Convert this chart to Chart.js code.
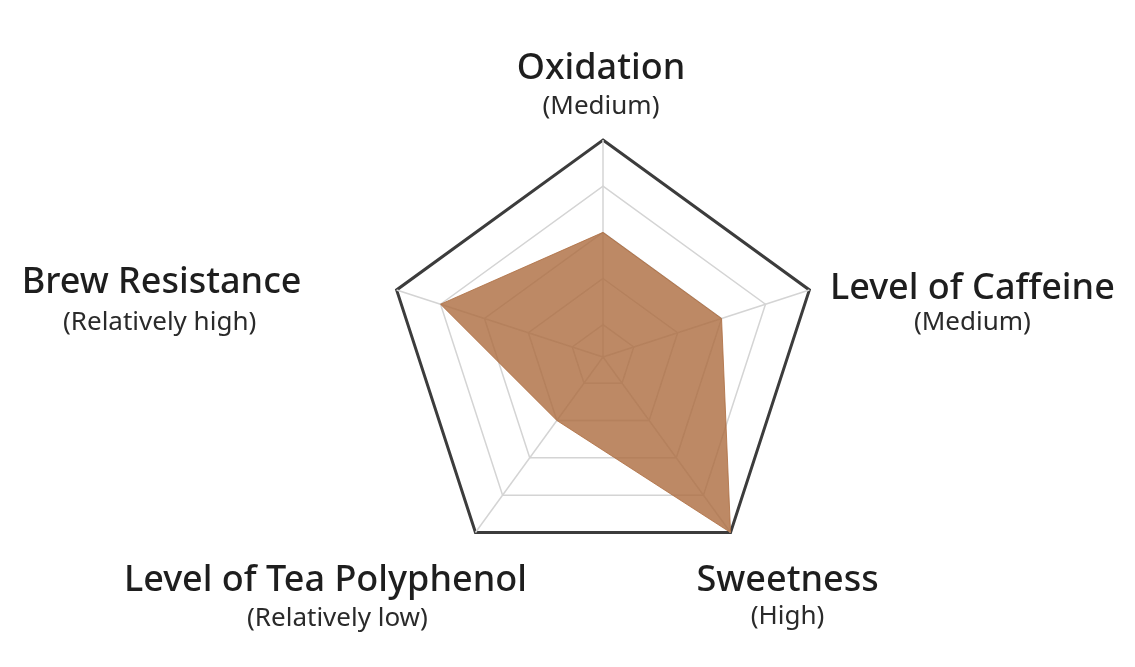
<!DOCTYPE html>
<html>
<head>
<meta charset="utf-8">
<script src="https://cdn.jsdelivr.net/npm/chart.js@4"></script>
<style>
  html, body { margin: 0; padding: 0; background: #fff; }
  #wrap { width: 1135px; height: 667px; position: relative; }
</style>
</head>
<body>
<div id="wrap"><canvas id="radar"></canvas></div>
<script>
// axis names and the rating written under each one
const axes = ["Oxidation", "Level of Caffeine", "Sweetness", "Level of Tea Polyphenol", "Brew Resistance"];
const ratings = ["Medium", "Medium", "High", "Relatively low", "Relatively high"];
// level on a 1-5 scale
const levels = [3, 3, 5, 2, 4];
// rings of the web
const ringValues = [1, 2, 3, 4, 5];
const scaleMin = 0.3;

// where each label block sits relative to its outer corner (x offset, title y offset, subtitle y offset)
const labelSpots = [
  { dx: -2, ty: -71, sy: -33 },
  { dx: 163, ty: -1, sy: 33 },
  { dx: 57, ty: 48, sy: 84 },
  { dx: -150, ty: 48, sy: 86, sdx: 12 },
  { dx: -235, ty: -7, sy: 33, sdx: -2 },
];

//draws the two-line labels round the web
const axisLabels = {
  id: "axisLabels",
  afterDraw(chart) {
    const scale = chart.scales.r;
    const ctx = chart.ctx;
    ctx.save();
    ctx.textAlign = "center";
    ctx.textBaseline = "middle";
    axes.forEach((name, i) => {
      const p = scale.getPointPosition(i, scale.drawingArea);
      const s = labelSpots[i];
      ctx.fillStyle = "#1e1e1e";
      ctx.font = "500 36px 'Noto Sans'";
      ctx.fillText(name, p.x + s.dx, p.y + s.ty);
      ctx.fillStyle = "#2a2a2a";
      ctx.font = "400 26px 'Noto Sans'";
      ctx.fillText("(" + ratings[i] + ")", p.x + s.dx + (s.sdx || 0), p.y + s.sy);
    });
    ctx.restore();
  },
};

new Chart(document.getElementById("radar"), {
  type: "radar",
  plugins: [axisLabels],
  data: {
    labels: axes,
    datasets: [
      {
        data: levels,
        fill: true,
        backgroundColor: "rgba(172, 107, 63, 0.8)",
        borderColor: "rgba(172, 107, 63, 0.8)",
        borderWidth: 1,
        pointRadius: 0,
        pointHoverRadius: 0,
      },
    ],
  },
  options: {
    responsive: true,
    maintainAspectRatio: false,
    animation: false,
    layout: { padding: { top: 140, bottom: 93, left: 72, right: 0 } },
    plugins: {
      legend: { display: false },
      tooltip: { enabled: false },
    },
    scales: {
      r: {
        min: scaleMin,
        max: 5,
        beginAtZero: false,
        afterBuildTicks: (scale) => {
          scale.ticks = [scaleMin, ...ringValues].map((v) => ({ value: v }));
        },
        ticks: { display: false },
        pointLabels: { display: false },
        grid: {
          color: (c) => (c.index === ringValues.length ? "#3c3c3c" : "#d4d4d4"),
          lineWidth: (c) => (c.index === ringValues.length ? 3 : 1.5),
        },
        angleLines: { color: "#d4d4d4", lineWidth: 1.5 },
      },
    },
  },
});
</script>
</body>
</html>
